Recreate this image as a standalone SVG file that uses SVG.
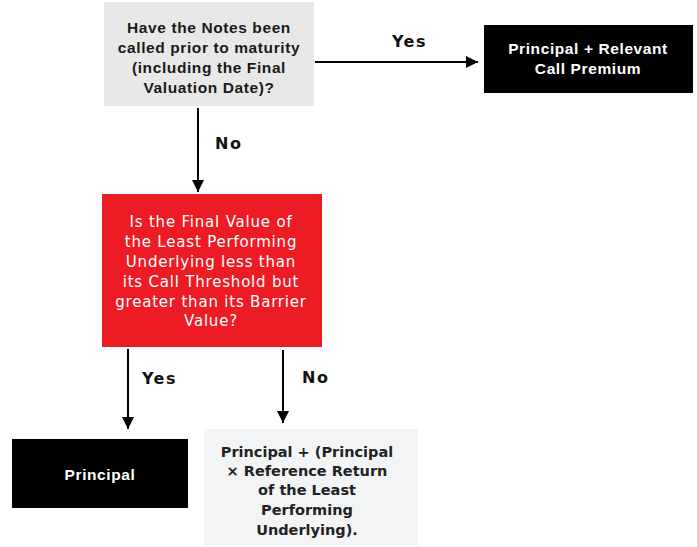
<svg xmlns="http://www.w3.org/2000/svg" width="697" height="547" viewBox="0 0 697 547">
<defs>
<marker id="ah" viewBox="0 0 10 10" refX="10" refY="5" markerWidth="6" markerHeight="6" markerUnits="strokeWidth" orient="auto">
<path d="M0,0 L10,5 L0,10 z" fill="#000"/>
</marker>
<style>
.q{font-family:"Liberation Sans",Arial,sans-serif;font-weight:bold;font-size:15.5px;letter-spacing:0.6px;text-anchor:middle}
.v{font-family:"DejaVu Sans",Verdana,sans-serif;font-size:15px;letter-spacing:0.8px;text-anchor:middle}
.vb{font-family:"DejaVu Sans",Verdana,sans-serif;font-weight:bold;font-size:14.5px;text-anchor:middle;fill:#222}
.lbl{font-family:"DejaVu Sans",Verdana,sans-serif;font-weight:bold;font-size:16px;letter-spacing:1.5px;fill:#111}
.c{stroke:#000;stroke-width:2;fill:none;marker-end:url(#ah)}
</style>
</defs>
<rect width="697" height="547" fill="#fff"/>
<g id="connectors">
<line class="c" x1="315" y1="62" x2="478" y2="62"/>
<line class="c" x1="198" y1="108" x2="198" y2="192"/>
<line class="c" x1="128" y1="349" x2="128" y2="429"/>
<line class="c" x1="283" y1="350" x2="283" y2="423"/>
<text class="lbl" x="392" y="47">Yes</text>
<text class="lbl" x="215" y="149">No</text>
<text class="lbl" x="142" y="384">Yes</text>
<text class="lbl" x="302" y="383">No</text>
</g>
<g id="q1">
<rect x="104" y="2" width="210" height="104" fill="#e8e8e8"/>
<text class="q" fill="#1a1a1a"><tspan x="209" y="33">Have the Notes been</tspan><tspan x="209" y="53">called prior to maturity</tspan><tspan x="209" y="73">(including the Final</tspan><tspan x="209" y="93">Valuation Date)?</tspan></text>
</g>
<g id="callPremium">
<rect x="484" y="25" width="209" height="68" fill="#000"/>
<text class="q" fill="#fff"><tspan x="588" y="54">Principal + Relevant</tspan><tspan x="588" y="74">Call Premium</tspan></text>
</g>
<g id="q2">
<rect x="102" y="194" width="220" height="153" fill="#ed1c24"/>
<text class="v" fill="#fff"><tspan x="211" y="227">Is the Final Value of</tspan><tspan x="211" y="247">the Least Performing</tspan><tspan x="211" y="267">Underlying less than</tspan><tspan x="211" y="287">its Call Threshold but</tspan><tspan x="211" y="307">greater than its Barrier</tspan><tspan x="211" y="326">Value?</tspan></text>
</g>
<g id="principal">
<rect x="12" y="439" width="176" height="69" fill="#000"/>
<text class="q" fill="#fff" x="100" y="480">Principal</text>
</g>
<g id="refReturn">
<rect x="204" y="429" width="214" height="117" fill="#f3f4f6"/>
<text class="vb"><tspan x="307" y="457">Principal + (Principal</tspan><tspan x="307" y="476">× Reference Return</tspan><tspan x="307" y="495">of the Least</tspan><tspan x="307" y="515">Performing</tspan><tspan x="307" y="535">Underlying).</tspan></text>
</g>
</svg>
